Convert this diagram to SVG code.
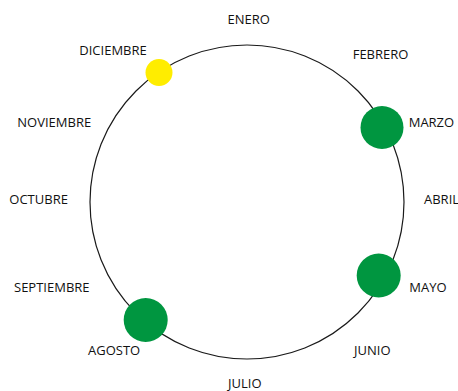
<svg xmlns="http://www.w3.org/2000/svg" width="458" height="391" viewBox="0 0 458 391">
<style>
.lbl{font-family:"Open Sans","Liberation Sans",sans-serif;font-size:13px;fill:#111111}
.ring{fill:none;stroke:#1a1a1a;stroke-width:1.2}
.green{fill:#009640}
.yellow{fill:#ffed00}
</style>
<rect width="458" height="391" fill="#ffffff"/>
<g id="connectors">
<circle class="ring" cx="247" cy="202" r="157"/>
</g>
<g id="dot-diciembre"><circle class="yellow" cx="159" cy="72.5" r="13.5"/></g>
<g id="dot-marzo"><circle class="green" cx="382" cy="127.5" r="21.5"/></g>
<g id="dot-mayo"><circle class="green" cx="378.7" cy="275.5" r="22"/></g>
<g id="dot-agosto"><circle class="green" cx="145.7" cy="320" r="22"/></g>
<g id="label-enero"><text class="lbl" x="227.5" y="23.5">ENERO</text></g>
<g id="label-febrero"><text class="lbl" x="352.7" y="59">FEBRERO</text></g>
<g id="label-marzo"><text class="lbl" x="408.7" y="127">MARZO</text></g>
<g id="label-abril"><text class="lbl" x="424" y="204">ABRIL</text></g>
<g id="label-mayo"><text class="lbl" x="409.3" y="292">MAYO</text></g>
<g id="label-junio"><text class="lbl" x="354" y="354.5">JUNIO</text></g>
<g id="label-julio"><text class="lbl" x="228" y="388">JULIO</text></g>
<g id="label-agosto"><text class="lbl" x="88" y="354.5">AGOSTO</text></g>
<g id="label-septiembre"><text class="lbl" x="14" y="292">SEPTIEMBRE</text></g>
<g id="label-octubre"><text class="lbl" x="9.3" y="204">OCTUBRE</text></g>
<g id="label-noviembre"><text class="lbl" x="17.3" y="127">NOVIEMBRE</text></g>
<g id="label-diciembre"><text class="lbl" x="79.3" y="55">DICIEMBRE</text></g>
</svg>
